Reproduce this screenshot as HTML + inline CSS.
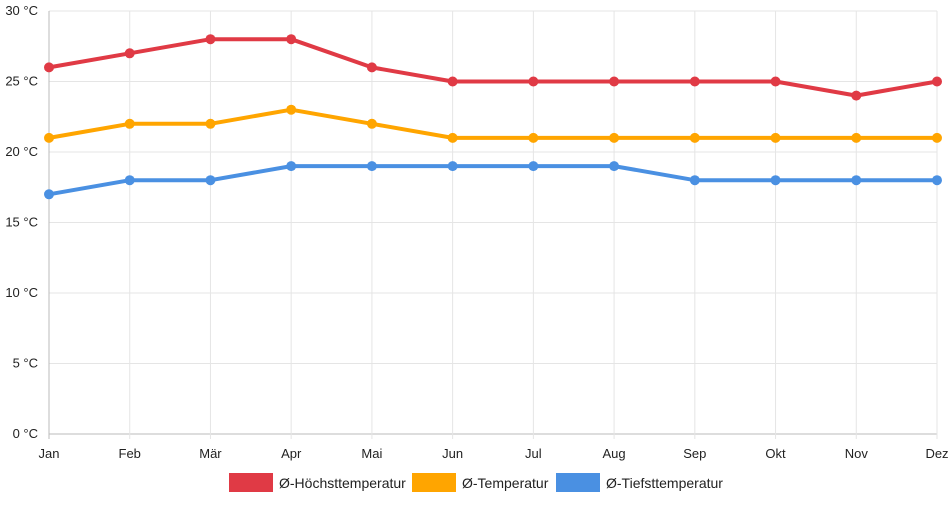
<!DOCTYPE html>
<html><head><meta charset="utf-8"><style>
body{margin:0;background:#fff;font-family:"Liberation Sans",sans-serif}
svg text{font-family:"Liberation Sans",sans-serif;font-size:13px;fill:#222}
</style></head><body>
<svg id="c" width="952" height="500"></svg>
<script>
const months=["Jan","Feb","Mär","Apr","Mai","Jun","Jul","Aug","Sep","Okt","Nov","Dez"];
const highTemps=[26,27,28,28,26,25,25,25,25,25,24,25];
const avgTemps=[21,22,22,23,22,21,21,21,21,21,21,21];
const lowTemps=[17,18,18,19,19,19,19,19,18,18,18,18];
const yTicks=[0,5,10,15,20,25,30];
const seriesNames=["Ø-Höchsttemperatur","Ø-Temperatur","Ø-Tiefsttemperatur"];
const colors=["#e03a45","#ffa500","#4a90e2"];
const svg=document.getElementById('c');const NS="http://www.w3.org/2000/svg";
const x0=49,x1=937,yTop=11,yBot=434;
const xs=i=>x0+(x1-x0)*i/(months.length-1);
const ys=v=>yBot-(yBot-yTop)*v/30;
function mk(t,a,p){const e=document.createElementNS(NS,t);for(const k in a)e.setAttribute(k,a[k]);(p||svg).appendChild(e);return e;}
yTicks.forEach(v=>{
 const l=mk('line',{x1:x0,x2:x1,y1:ys(v),y2:ys(v),stroke:v===0?'#bbb':'#e5e5e5'});
 
 
 const t=mk('text',{x:38,y:ys(v)+4,'text-anchor':'end'});t.textContent=v+' °C';
 
 
});
months.forEach((m,i)=>{
 const l=mk('line',{x1:xs(i),x2:xs(i),y1:yTop,y2:yBot+5,stroke:i===0?'#bbb':'#e5e5e5'});
 
 
 const t=mk('text',{x:xs(i),y:458,'text-anchor':'middle'});t.textContent=m;
 
 
});
[highTemps,avgTemps,lowTemps].forEach((d,s)=>{
 const p=mk('polyline',{points:d.map((v,i)=>xs(i)+','+ys(v)).join(' '),fill:'none',stroke:colors[s],'stroke-width':4,'stroke-linejoin':'round'});
 
 
 d.forEach((v,i)=>{const c=mk('circle',{cx:xs(i),cy:ys(v),r:5,fill:colors[s]});
  
  });
});
const lx=[229,412,556];
seriesNames.forEach((n,s)=>{
 const g=mk('g',{});
 
 
 mk('rect',{x:lx[s],y:473,width:44,height:19,fill:colors[s]},g);
 const t=mk('text',{x:lx[s]+50,y:488,style:'font-size:14px'},g);t.textContent=n;
});
</script>
</body></html>
